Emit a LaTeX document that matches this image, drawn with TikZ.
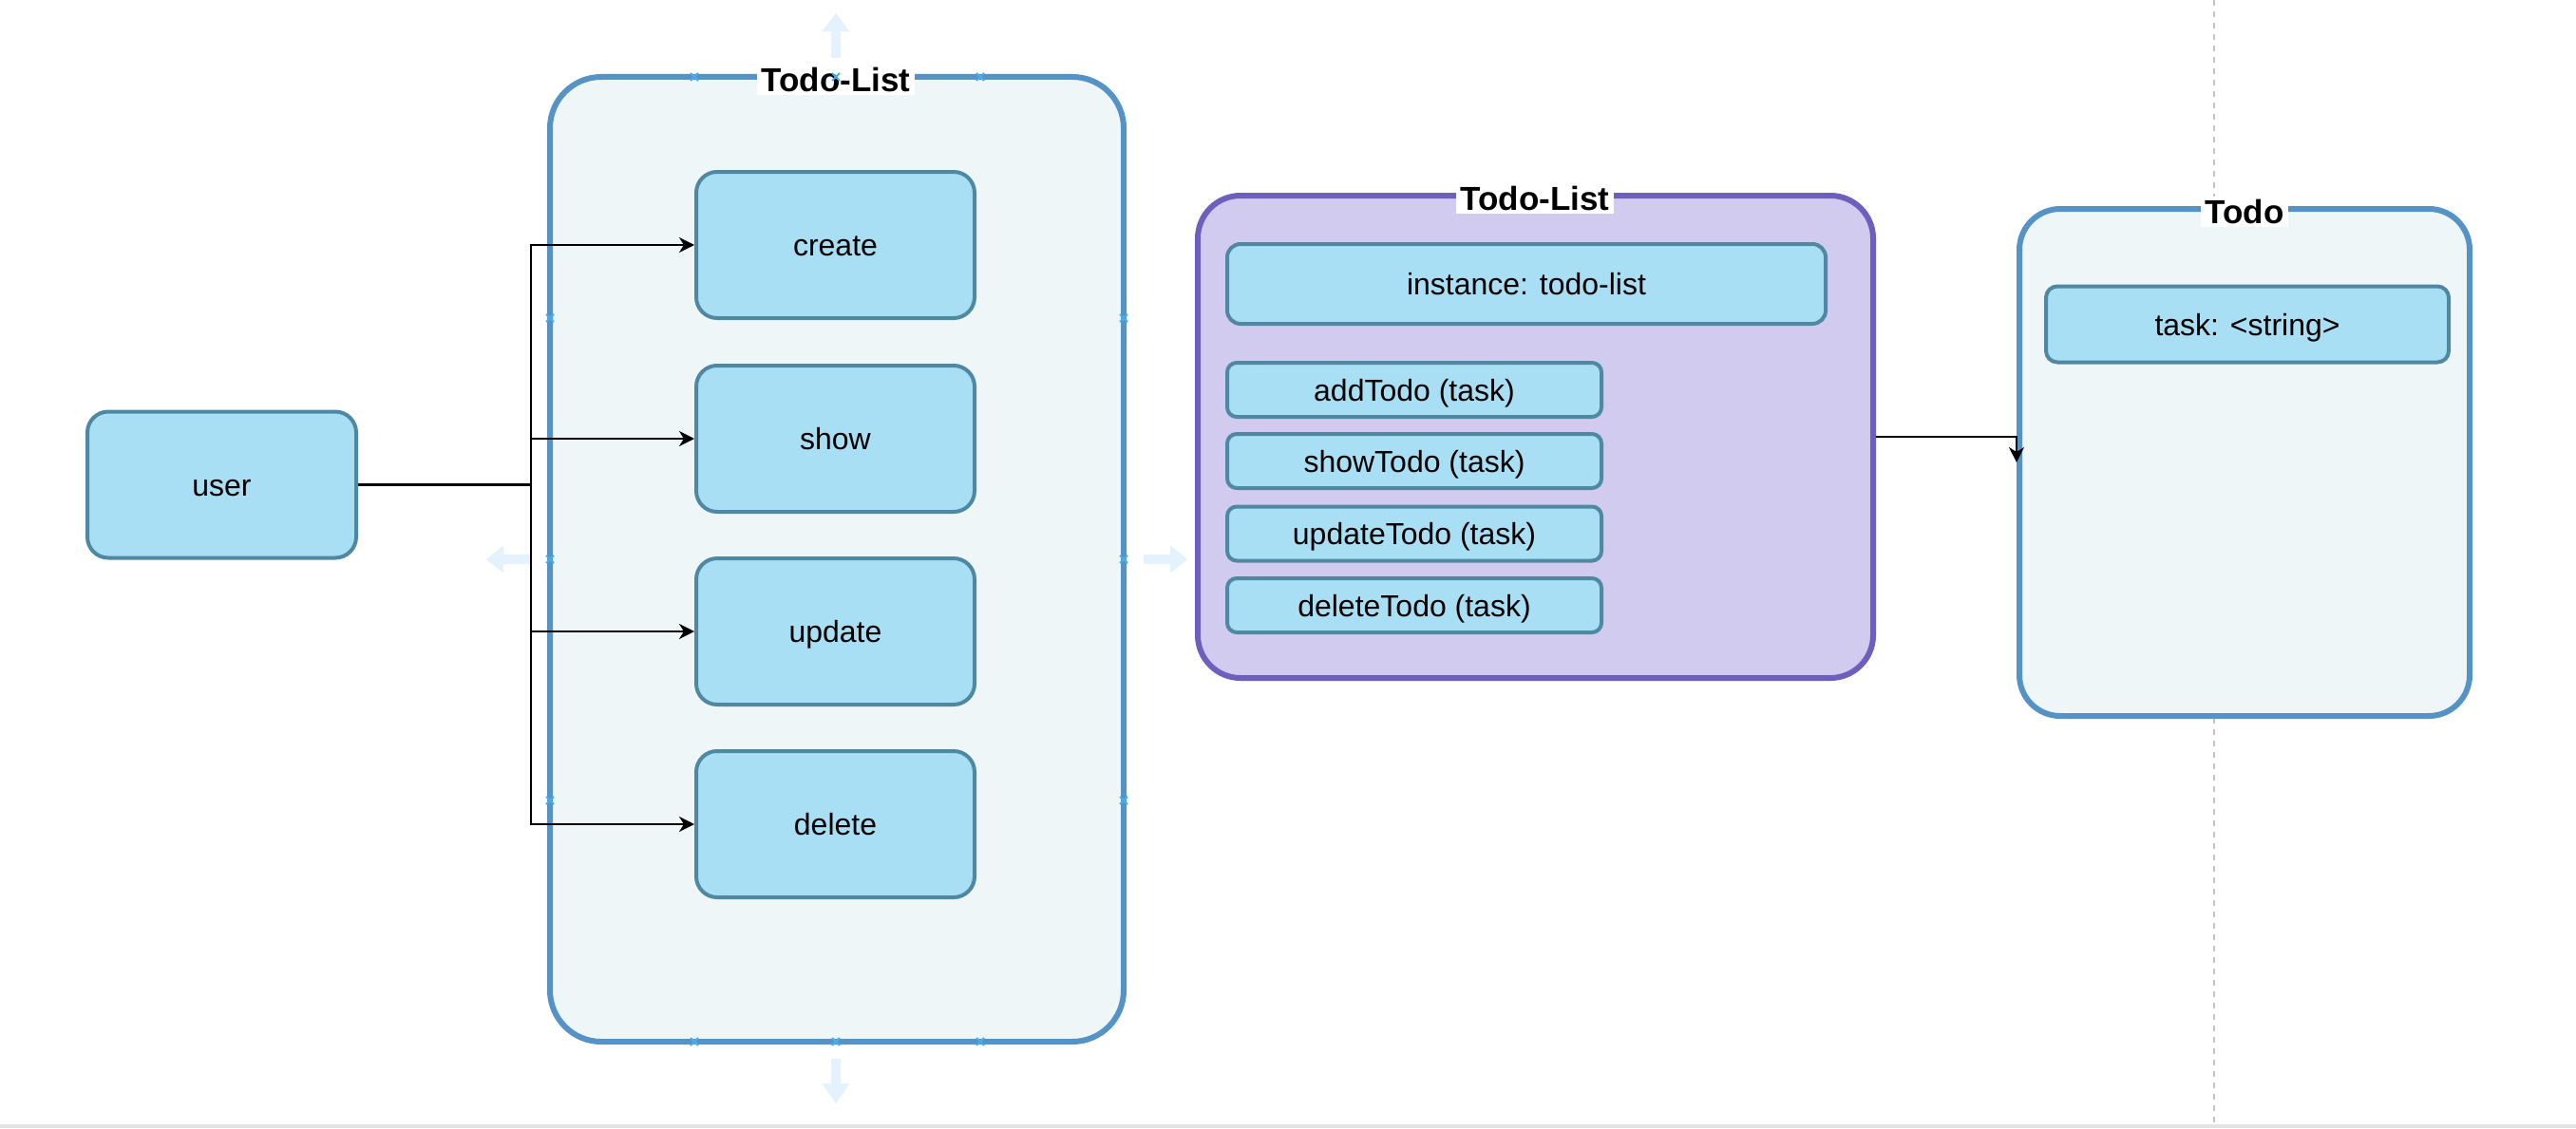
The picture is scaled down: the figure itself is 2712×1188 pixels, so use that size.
\documentclass[tikz,border=0pt]{standalone}
\usepackage{fontspec}
\setmainfont{Liberation Sans}
\usetikzlibrary{arrows.meta}
\definecolor{cfill}{HTML}{EEF6F8}
\definecolor{cstroke}{HTML}{5592C6}
\definecolor{bfill}{HTML}{A9DFF5}
\definecolor{bstroke}{HTML}{4F88A2}
\definecolor{pfill}{HTML}{D0CBEF}
\definecolor{pstroke}{HTML}{6E5FBE}
\definecolor{hfill}{HTML}{E3F2FC}
\definecolor{hmark}{HTML}{45ADEF}
\definecolor{pageline}{HTML}{C4C4C4}
\definecolor{bottomline}{HTML}{E4E4E4}
\begin{document}
\begin{tikzpicture}[x=0.5pt,y=-0.5pt,
  container/.style={draw=cstroke, fill=cfill, line width=3pt, rounded corners=#1, inner sep=0pt},
  purplebox/.style={draw=pstroke, fill=pfill, line width=3pt, rounded corners=22.5pt, inner sep=0pt},
  box/.style={draw=bstroke, fill=bfill, line width=2pt, inner sep=0pt, text=black, text height=12pt, text depth=0.5pt, font=\fontsize{16}{19}\selectfont},
  bigbox/.style={box, rounded corners=11pt, minimum width=146.5pt, minimum height=77pt},
  methodbox/.style={box, rounded corners=5pt, minimum width=197pt, minimum height=28.5pt},
  titlelabel/.style={fill=white, inner xsep=2.5pt, inner ysep=1.5pt, text=black, font=\bfseries\fontsize{17.5}{20}\selectfont},
  conn/.style={draw=black, line width=1.2pt, -{Stealth[length=8pt,width=8pt,inset=2.5pt]}},
  handle/.style={fill=hfill},
  hmarkstyle/.style={draw=hmark, line width=1pt}
]
\fill[white] (0,0) rectangle (2712,1188);
\useasboundingbox (0,0) rectangle (2712,1188);

% page break line and bottom edge
\draw[pageline, line width=1pt, dash pattern=on 3pt off 3pt] (2331,0) -- (2331,1184);
\fill[bottomline] (0,1184) rectangle (2712,1188);

% left container
\node[container=27pt, minimum width=302pt, minimum height=508pt] (tl1) at (881,589) {};
\node[titlelabel] (tl1t) at (880,84) {Todo-List};

% selection handles
\fill[handle] (875,61) -- (875,33) -- (865.5,33) -- (880,14) -- (894.5,33) -- (885,33) -- (885,61) -- cycle;
\fill[handle] (875,1115) -- (875,1141) -- (865.5,1141) -- (880,1162) -- (894.5,1141) -- (885,1141) -- (885,1115) -- cycle;
\fill[handle] (558,584) -- (530,584) -- (530,574.5) -- (512,589) -- (530,603.5) -- (530,594) -- (558,594) -- cycle;
\fill[handle] (1204,584) -- (1232,584) -- (1232,574.5) -- (1250,589) -- (1232,603.5) -- (1232,594) -- (1204,594) -- cycle;
\foreach \p in {(731,81),(880,81),(1032,81),(731,1097),(880,1097),(1032,1097),(579,335),(579,589),(579,843),(1183,335),(1183,589),(1183,843)}
  \draw[hmarkstyle] \p ++(-4,-4) -- ++(8,8) \p ++(-4,4) -- ++(8,-8);

% action boxes
\node[bigbox] (create) at (879.5,258) {create};
\node[bigbox] (show) at (879.5,462) {show};
\node[bigbox] (update) at (879.5,665) {update};
\node[bigbox] (delete) at (879.5,868) {delete};

% user
\node[box, rounded corners=11pt, minimum width=141.5pt, minimum height=77pt] (user) at (233.5,510.5) {user};

\draw[conn] (user.east) -- ++(182,0) |- (create.west);
\draw[conn] (user.east) -- ++(182,0) |- (show.west);
\draw[conn] (user.east) -- ++(182,0) |- (update.west);
\draw[conn] (user.east) -- ++(182,0) |- (delete.west);

% middle container
\node[purplebox, minimum width=355.5pt, minimum height=254pt] (tl2) at (1616.5,460) {};
\node[titlelabel] (tl2t) at (1616,209) {Todo-List};
\node[box, rounded corners=7pt, minimum width=315pt, minimum height=42pt] (inst) at (1607,299) {instance: todo-list};
\node[methodbox] (add) at (1489,410.5) {addTodo (task)};
\node[methodbox] (showt) at (1489,485.5) {showTodo (task)};
\node[methodbox] (updt) at (1489,562) {updateTodo (task)};
\node[methodbox] (delt) at (1489,637.5) {deleteTodo (task)};

% right container
\node[container=21.5pt, minimum width=237pt, minimum height=267pt] (todo) at (2363,487) {};
\node[titlelabel] (todot) at (2363,223) {Todo};
\node[box, rounded corners=6pt, minimum width=212pt, minimum height=40pt] (task) at (2366,341.5) {task: <string>};

\draw[conn] (tl2.east) -| (todo.west);
\end{tikzpicture}
\end{document}
